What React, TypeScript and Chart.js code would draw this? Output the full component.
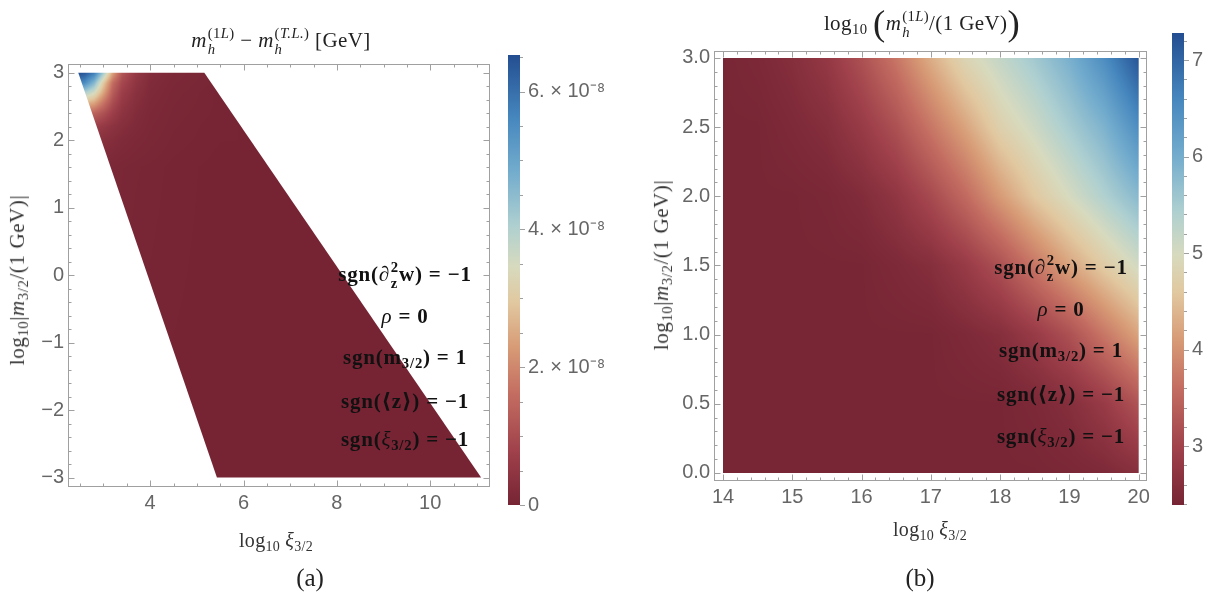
import React, { useEffect, useRef } from "react";
import { Chart, registerables } from "chart.js";
Chart.register(...registerables);

// ---------- Panel (a): m_h^(1L) - m_h^(T.L.) [GeV] (values in units of 1e-8 GeV) ----------
const A_X_RANGE = [2.24, 11.28];
const A_Y_RANGE = [-3.14, 3.13];
const A_X_TICKS = [4, 6, 8, 10];
const A_Y_TICKS = [-3, -2, -1, 0, 1, 2, 3];
const A_REGION_X = [2.46, 5.16, 11.09, 5.43];
const A_REGION_Y = [3, 3, -3, -3];
const A_GRID_X = [2.4, 2.6, 2.8, 3.0, 3.2, 3.4, 3.7, 4.0, 4.5, 5.5, 11.2];
const A_GRID_Y = [3.0, 2.85, 2.7, 2.55, 2.4, 2.2, 2.0, 1.6, -3.0];
const A_ROW_300 = [6.6, 6.4, 5.8, 4.2, 2.4, 1.2, 0.55, 0.25, 0.12, 0.03, 0];
const A_ROW_285 = [5.8, 5.5, 4.6, 3.0, 1.6, 0.9, 0.45, 0.2, 0.1, 0.03, 0];
const A_ROW_270 = [4.2, 4.0, 3.5, 2.4, 1.3, 0.7, 0.35, 0.17, 0.08, 0.02, 0];
const A_ROW_255 = [2.8, 2.7, 2.4, 1.7, 1.0, 0.55, 0.28, 0.14, 0.07, 0.02, 0];
const A_ROW_240 = [1.6, 1.6, 1.4, 1.1, 0.7, 0.42, 0.22, 0.12, 0.06, 0.02, 0];
const A_ROW_220 = [0.8, 0.8, 0.7, 0.55, 0.4, 0.28, 0.17, 0.1, 0.05, 0.01, 0];
const A_ROW_200 = [0.4, 0.4, 0.38, 0.32, 0.25, 0.18, 0.12, 0.08, 0.04, 0.01, 0];
const A_ROW_160 = [0.12, 0.12, 0.12, 0.1, 0.09, 0.07, 0.05, 0.04, 0.02, 0, 0];
const A_ROW_M300 = [0, 0, 0, 0, 0, 0, 0, 0, 0, 0, 0];
const A_CBAR_RANGE = [0, 6.53];
const A_CBAR_TICKS = [0, 2, 4, 6];
const A_CBAR_LABELS = ["0", "2. \u00d7 10\u207b\u2078", "4. \u00d7 10\u207b\u2078", "6. \u00d7 10\u207b\u2078"];

// ---------- Panel (b): log10(m_h^(1L)/(1 GeV)) ----------
const B_X_RANGE = [13.87, 20.12];
const B_Y_RANGE = [-0.058, 3.05];
const B_X_TICKS = [14, 15, 16, 17, 18, 19, 20];
const B_Y_TICKS = [0, 0.5, 1, 1.5, 2, 2.5, 3];
const B_REGION_X = [14, 20, 20, 14];
const B_REGION_Y = [3, 3, 0, 0];
const B_GRID_X = [14, 14.5, 15, 15.5, 16, 16.5, 17, 17.5, 18, 18.5, 19, 19.5, 20];
const B_GRID_Y = [0, 0.5, 1.0, 1.5, 2.0, 2.5, 3.0];
const B_ROW_00 = [2.42, 2.42, 2.42, 2.42, 2.42, 2.42, 2.42, 2.42, 2.42, 2.42, 2.45, 2.5, 2.62];
const B_ROW_05 = [2.42, 2.42, 2.42, 2.42, 2.42, 2.42, 2.42, 2.42, 2.42, 2.48, 2.6, 2.85, 3.25];
const B_ROW_10 = [2.42, 2.42, 2.42, 2.42, 2.42, 2.42, 2.42, 2.5, 2.6, 2.85, 3.2, 3.7, 4.2];
const B_ROW_15 = [2.42, 2.42, 2.42, 2.42, 2.42, 2.5, 2.6, 2.85, 3.2, 3.7, 4.2, 4.65, 5.05];
const B_ROW_20 = [2.42, 2.42, 2.42, 2.45, 2.55, 2.75, 3.1, 3.55, 4.1, 4.6, 5.0, 5.4, 5.8];
const B_ROW_25 = [2.42, 2.42, 2.5, 2.6, 2.85, 3.2, 3.7, 4.2, 4.75, 5.1, 5.5, 5.9, 6.5];
const B_ROW_30 = [2.42, 2.48, 2.6, 2.8, 3.2, 3.7, 4.3, 4.85, 5.2, 5.55, 5.95, 6.5, 7.2];
const B_CBAR_RANGE = [2.39, 7.28];
const B_CBAR_TICKS = [3, 4, 5, 6, 7];
const B_CBAR_LABELS = ["3", "4", "5", "6", "7"];

// ---------- colour scale (red-blue tones) ----------
const CMAP_STOPS = [0, 0.12, 0.25, 0.35, 0.45, 0.53, 0.62, 0.74, 0.86, 1];
const CMAP_COLORS = [
  [118, 36, 52], [160, 65, 75], [196, 110, 98], [215, 155, 118], [225, 200, 160],
  [215, 218, 190], [175, 208, 208], [115, 172, 205], [70, 135, 190], [35, 78, 145],
];

function cmap(t: number): number[] {
  const u = Math.max(0, Math.min(1, t));
  for (let k = 0; k < CMAP_STOPS.length - 1; k++) {
    if (u <= CMAP_STOPS[k + 1]) {
      const f = (u - CMAP_STOPS[k]) / (CMAP_STOPS[k + 1] - CMAP_STOPS[k]);
      const a = CMAP_COLORS[k], b = CMAP_COLORS[k + 1];
      return [a[0] + (b[0] - a[0]) * f, a[1] + (b[1] - a[1]) * f, a[2] + (b[2] - a[2]) * f];
    }
  }
  return CMAP_COLORS[CMAP_COLORS.length - 1];
}

function locate(g: number[], v: number): [number, number] {
  for (let i = 0; i < g.length - 1; i++) {
    const a = g[i], b = g[i + 1];
    if (v >= Math.min(a, b) && v <= Math.max(a, b)) return [i, (v - a) / (b - a)];
  }
  const asc = g[g.length - 1] > g[0];
  if ((asc && v < g[0]) || (!asc && v > g[0])) return [0, 0];
  return [g.length - 2, 1];
}

function steps(a: number, b: number, s: number): number[] {
  const out: number[] = [];
  for (let k = 0; a + k * s <= b + 1e-9; k++) out.push(+(a + k * s).toFixed(4));
  return out;
}

const heatPlugin = {
  id: "heat",
  beforeDatasetsDraw(chart: any, _a: any, o: any) {
    const { ctx, scales } = chart;
    const xs = scales.x, ys = scales.y;
    const px = o.polyX.map((v: number) => xs.getPixelForValue(v));
    const py = o.polyY.map((v: number) => ys.getPixelForValue(v));
    const x0 = Math.floor(Math.min(...px)), x1 = Math.ceil(Math.max(...px));
    const y0 = Math.floor(Math.min(...py)), y1 = Math.ceil(Math.max(...py));
    const w = x1 - x0, h = y1 - y0;
    const off = document.createElement("canvas");
    off.width = w; off.height = h;
    const octx = off.getContext("2d")!;
    const img = octx.createImageData(w, h);
    for (let j = 0; j < h; j++) {
      const yv = ys.getValueForPixel(y0 + j + 0.5);
      const [iy, fy] = locate(o.gy, yv);
      for (let i = 0; i < w; i++) {
        const xv = xs.getValueForPixel(x0 + i + 0.5);
        const [ix, fx] = locate(o.gx, xv);
        const r0 = o.vals[iy], r1 = o.vals[iy + 1];
        const v = (r0[ix] * (1 - fx) + r0[ix + 1] * fx) * (1 - fy) + (r1[ix] * (1 - fx) + r1[ix + 1] * fx) * fy;
        const c = cmap((v - o.vmin) / (o.vmax - o.vmin));
        const k = (j * w + i) * 4;
        img.data[k] = c[0]; img.data[k + 1] = c[1]; img.data[k + 2] = c[2]; img.data[k + 3] = 255;
      }
    }
    octx.putImageData(img, 0, 0);
    ctx.save();
    ctx.beginPath();
    px.forEach((p: number, k: number) => (k ? ctx.lineTo(p, py[k]) : ctx.moveTo(p, py[k])));
    ctx.closePath();
    ctx.clip();
    ctx.drawImage(off, x0, y0);
    ctx.restore();
  },
};

const framePlugin = {
  id: "frame",
  afterDraw(chart: any, _a: any, o: any) {
    const { ctx, chartArea: ca, scales } = chart;
    const xs = scales.x, ys = scales.y;
    ctx.save();
    ctx.strokeStyle = "#a0a0a0";
    ctx.lineWidth = 1;
    ctx.strokeRect(Math.round(ca.left) + 0.5, Math.round(ca.top) + 0.5, Math.round(ca.width) - 1, Math.round(ca.height) - 1);
    ctx.beginPath();
    const vt = (v: number, len: number) => {
      const p = Math.round(xs.getPixelForValue(v)) + 0.5;
      ctx.moveTo(p, ca.bottom); ctx.lineTo(p, ca.bottom - len);
      ctx.moveTo(p, ca.top); ctx.lineTo(p, ca.top + len);
    };
    const ht = (v: number, len: number) => {
      const p = Math.round(ys.getPixelForValue(v)) + 0.5;
      ctx.moveTo(ca.left, p); ctx.lineTo(ca.left + len, p);
      ctx.moveTo(ca.right, p); ctx.lineTo(ca.right - len, p);
    };
    o.xMinor.forEach((v: number) => vt(v, 3.5));
    o.xMajor.forEach((v: number) => vt(v, 6.5));
    o.yMinor.forEach((v: number) => ht(v, 3.5));
    o.yMajor.forEach((v: number) => ht(v, 6.5));
    ctx.stroke();
    ctx.restore();
  },
};

const cbarPlugin = {
  id: "cbar",
  beforeDatasetsDraw(chart: any, _a: any, o: any) {
    const { ctx, chartArea: ca, scales } = chart;
    const ys = scales.y;
    const g = ctx.createLinearGradient(0, ys.getPixelForValue(o.vmin), 0, ys.getPixelForValue(o.vmax));
    CMAP_STOPS.forEach((s, k) => {
      const c = CMAP_COLORS[k];
      g.addColorStop(s, `rgb(${c[0]},${c[1]},${c[2]})`);
    });
    ctx.save();
    ctx.fillStyle = g;
    ctx.fillRect(ca.left, ca.top, ca.width, ca.height);
    ctx.strokeStyle = "#a0a0a0";
    ctx.beginPath();
    o.minor.forEach((v: number) => {
      const p = Math.round(ys.getPixelForValue(v)) + 0.5;
      ctx.moveTo(ca.right, p); ctx.lineTo(ca.right + 3, p);
    });
    o.major.forEach((v: number) => {
      const p = Math.round(ys.getPixelForValue(v)) + 0.5;
      ctx.moveTo(ca.right, p); ctx.lineTo(ca.right + 5, p);
    });
    ctx.stroke();
    ctx.restore();
  },
};

const TICK_FONT = { family: "'Liberation Sans', Arial, sans-serif", size: 20 };
const TICK_COLOR = "#666666";
const fmtInt = (v: number) => (v < 0 ? "\u2212" + Math.abs(v) : String(v));

function panelConfig(p: any): any {
  return {
    type: "scatter",
    data: { datasets: [{ data: p.polyX.map((x: number, k: number) => ({ x, y: p.polyY[k] })), pointRadius: 0, showLine: false }] },
    plugins: [heatPlugin, framePlugin],
    options: {
      animation: false,
      responsive: false,
      devicePixelRatio: 1,
      layout: { padding: p.padding },
      plugins: {
        legend: { display: false },
        tooltip: { enabled: false },
        heat: { gx: p.gx, gy: p.gy, vals: p.vals, vmin: p.vmin, vmax: p.vmax, polyX: p.polyX, polyY: p.polyY },
        frame: { xMajor: p.xTicks, yMajor: p.yTicks, xMinor: p.xMinor, yMinor: p.yMinor },
      },
      scales: {
        x: {
          type: "linear", min: p.xRange[0], max: p.xRange[1],
          grid: { display: false, drawTicks: false }, border: { display: false },
          afterBuildTicks: (s: any) => { s.ticks = p.xTicks.map((v: number) => ({ value: v })); },
          afterFit: (s: any) => { s.height = 40; },
          ticks: { font: TICK_FONT, color: TICK_COLOR, padding: 4, maxRotation: 0, callback: p.xFmt },
        },
        y: {
          type: "linear", min: p.yRange[0], max: p.yRange[1],
          grid: { display: false, drawTicks: false }, border: { display: false },
          afterBuildTicks: (s: any) => { s.ticks = p.yTicks.map((v: number) => ({ value: v })); },
          afterFit: (s: any) => { s.width = p.yWidth; },
          ticks: { font: TICK_FONT, color: TICK_COLOR, padding: 4, callback: p.yFmt },
        },
      },
    },
  };
}

function cbarConfig(c: any): any {
  return {
    type: "scatter",
    data: { datasets: [{ data: [], pointRadius: 0 }] },
    plugins: [cbarPlugin],
    options: {
      animation: false,
      responsive: false,
      devicePixelRatio: 1,
      layout: { padding: c.padding },
      plugins: {
        legend: { display: false },
        tooltip: { enabled: false },
        cbar: { vmin: c.range[0], vmax: c.range[1], major: c.ticks, minor: c.minor },
      },
      scales: {
        x: { type: "linear", display: false, min: 0, max: 1 },
        y: {
          type: "linear", position: "right", min: c.range[0], max: c.range[1],
          grid: { display: false, drawTicks: false }, border: { display: false },
          afterBuildTicks: (s: any) => { s.ticks = c.ticks.map((v: number) => ({ value: v })); },
          afterFit: (s: any) => { s.width = c.width; },
          ticks: {
            font: TICK_FONT, color: TICK_COLOR, padding: 8,
            callback: (v: number) => c.labels[c.ticks.indexOf(v)] ?? "",
          },
        },
      },
    },
  };
}

function ChartCanvas({ config, left, top, width, height }: any) {
  const ref = useRef<HTMLCanvasElement>(null);
  useEffect(() => {
    const chart = new Chart(ref.current!, config);
    return () => chart.destroy();
  }, []);
  return (
    <canvas ref={ref} width={width} height={height}
      style={{ position: "absolute", left, top, width, height }} />
  );
}

// ---------- math text helpers ----------
function SS({ sup, sub }: any) {
  return (
    <span style={{ display: "inline-flex", flexDirection: "column", verticalAlign: "0.42em", lineHeight: 1, marginLeft: "0.04em" }}>
      <span style={{ fontSize: "0.7em", lineHeight: 1.1 }}>{sup}</span>
      <span style={{ fontSize: "0.7em", lineHeight: 1.1 }}>{sub}</span>
    </span>
  );
}
const Sb = ({ children }: any) => (
  <span style={{ fontSize: "0.7em", verticalAlign: "-0.3em", lineHeight: 1 }}>{children}</span>
);
const I = ({ children }: any) => <span style={{ fontStyle: "italic" }}>{children}</span>;

const SERIF = "'Liberation Serif', 'DejaVu Serif', serif";

function Txt({ x, y, size, rotate, bold, color, ls, children }: any) {
  return (
    <div style={{
      position: "absolute", left: x, top: y, whiteSpace: "nowrap",
      transform: `translate(-50%, -50%)${rotate ? " rotate(-90deg)" : ""}`,
      fontFamily: SERIF, fontSize: size, fontWeight: bold ? "bold" : "normal",
      color: color || "#222", lineHeight: 1.2, letterSpacing: ls || 0,
    }}>{children}</div>
  );
}

const N = ({ children }: any) => <span style={{ fontWeight: "normal", fontStyle: "italic" }}>{children}</span>;

function Annotations({ cx, ys }: any) {
  const common = { size: 21, bold: true, color: "#111", ls: "0.8px" };
  return (
    <>
      <Txt x={cx} y={ys[0]} {...common}>sgn(∂<SS sup="2" sub="z" />w) = −1</Txt>
      <Txt x={cx} y={ys[1]} {...common}><N>ρ</N> = 0</Txt>
      <Txt x={cx} y={ys[2]} {...common}>sgn(m<Sb>3/2</Sb>) = 1</Txt>
      <Txt x={cx} y={ys[3]} {...common}>sgn(⟨z⟩) = −1</Txt>
      <Txt x={cx} y={ys[4]} {...common}>sgn(<N>ξ</N><Sb>3/2</Sb>) = −1</Txt>
    </>
  );
}

export default function App() {
  const aConf = panelConfig({
    padding: { left: 0, top: 64, right: 10, bottom: 74 },
    yWidth: 68,
    xRange: A_X_RANGE, yRange: A_Y_RANGE,
    xTicks: A_X_TICKS, yTicks: A_Y_TICKS,
    xMinor: steps(2.5, 11, 0.5), yMinor: steps(-3, 3, 0.2),
    xFmt: (v: number) => fmtInt(v), yFmt: (v: number) => fmtInt(v),
    gx: A_GRID_X, gy: A_GRID_Y,
    vals: [A_ROW_300, A_ROW_285, A_ROW_270, A_ROW_255, A_ROW_240, A_ROW_220, A_ROW_200, A_ROW_160, A_ROW_M300],
    vmin: A_CBAR_RANGE[0], vmax: A_CBAR_RANGE[1],
    polyX: A_REGION_X, polyY: A_REGION_Y,
  });
  const bConf = panelConfig({
    padding: { left: 0, top: 51, right: 13, bottom: 80 },
    yWidth: 94,
    xRange: B_X_RANGE, yRange: B_Y_RANGE,
    xTicks: B_X_TICKS, yTicks: B_Y_TICKS,
    xMinor: steps(14, 20, 0.2), yMinor: steps(0, 3, 0.1),
    xFmt: (v: number) => String(v), yFmt: (v: number) => v.toFixed(1),
    gx: B_GRID_X, gy: B_GRID_Y,
    vals: [B_ROW_00, B_ROW_05, B_ROW_10, B_ROW_15, B_ROW_20, B_ROW_25, B_ROW_30],
    vmin: B_CBAR_RANGE[0], vmax: B_CBAR_RANGE[1],
    polyX: B_REGION_X, polyY: B_REGION_Y,
  });
  const aBar = cbarConfig({
    padding: { left: 8, top: 55, right: 0, bottom: 96 },
    width: 100, range: A_CBAR_RANGE, ticks: A_CBAR_TICKS, labels: A_CBAR_LABELS,
    minor: steps(0.5, 6.5, 0.5),
  });
  const bBar = cbarConfig({
    padding: { left: 8, top: 33, right: 0, bottom: 96 },
    width: 36, range: B_CBAR_RANGE, ticks: B_CBAR_TICKS, labels: B_CBAR_LABELS,
    minor: steps(2.4, 7.2, 0.2),
  });

  const paren = { fontSize: "1.75em", verticalAlign: "-0.14em", lineHeight: 0.8 };

  return (
    <div style={{ position: "absolute", left: 0, top: 0, width: 1220, height: 601, background: "#fff", overflow: "hidden" }}>
      <ChartCanvas config={aConf} left={0} top={0} width={500} height={601} />
      <ChartCanvas config={aBar} left={500} top={0} width={120} height={601} />
      <ChartCanvas config={bConf} left={620} top={0} width={540} height={601} />
      <ChartCanvas config={bBar} left={1164} top={0} width={56} height={601} />

      <Txt x={281} y={41} size={21} ls="0.4px">
        <I>m</I><SS sup={<>(1<I>L</I>)</>} sub={<I>h</I>} /> − <I>m</I><SS sup={<>(<I>T.L.</I>)</>} sub={<I>h</I>} /> [GeV]
      </Txt>
      <Txt x={922} y={24} size={21} ls="0.4px">
        log<Sb>10</Sb>{" "}<span style={paren}>(</span>
        <I>m</I><SS sup={<>(1<I>L</I>)</>} sub={<I>h</I>} />/(1 GeV)<span style={paren}>)</span>
      </Txt>

      <Txt x={276} y={541} size={20} color="#333" ls="0.3px">log<Sb>10</Sb> <I>ξ</I><Sb>3/2</Sb></Txt>
      <Txt x={930} y={530} size={20} color="#333" ls="0.3px">log<Sb>10</Sb> <I>ξ</I><Sb>3/2</Sb></Txt>
      <Txt x={18} y={280} size={21} rotate color="#333" ls="0.6px">log<Sb>10</Sb>|<I>m</I><Sb>3/2</Sb>/(1 GeV)|</Txt>
      <Txt x={662} y={265} size={21} rotate color="#333" ls="0.6px">log<Sb>10</Sb>|<I>m</I><Sb>3/2</Sb>/(1 GeV)|</Txt>

      <Annotations cx={405} ys={[275, 317, 358, 402, 440]} />
      <Annotations cx={1061} ys={[268, 310, 351, 395, 437]} />

      <Txt x={310} y={578} size={25}>(a)</Txt>
      <Txt x={920} y={578} size={25}>(b)</Txt>
    </div>
  );
}
